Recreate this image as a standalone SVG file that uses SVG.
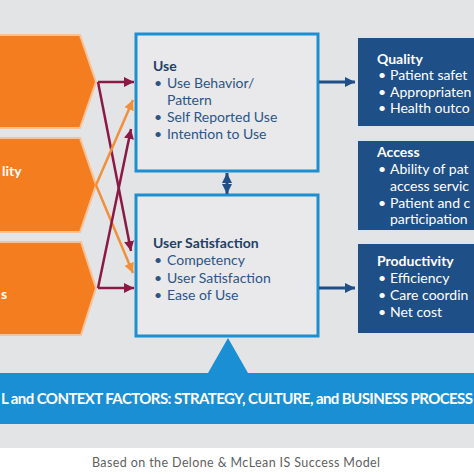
<svg xmlns="http://www.w3.org/2000/svg" width="474" height="474" viewBox="0 0 474 474">
<defs>
<style>
text{font-family:Lato,"Open Sans","Liberation Sans",sans-serif;}
.hd{font-size:14px;font-weight:bold;fill:#233f66;}
.it{font-size:14px;fill:#2c5585;}
.whd{font-size:14px;font-weight:bold;fill:#ffffff;}
.wit{font-size:14px;fill:#ffffff;}
.chev{fill:#f47d20;stroke:#f8c196;stroke-width:2;}
.gbox{fill:#e9e9eb;stroke:#1c8fd3;stroke-width:3;}
.nbox{fill:#1f4f87;stroke:#dfe4ea;stroke-width:3;}
.mar{stroke:#8a1a44;stroke-width:2.5;fill:none;}
.ora{stroke:#f1903a;stroke-width:2.5;fill:none;}
.nav{stroke:#1f4f86;stroke-width:3;fill:none;}
</style>
<marker id="mm" viewBox="0 0 10 10" refX="10" refY="5" markerWidth="10" markerHeight="10" markerUnits="userSpaceOnUse" orient="auto"><path d="M0,0 L10,5 L0,10 z" fill="#8a1a44"/></marker>
<marker id="mo" viewBox="0 0 10 10" refX="10" refY="5" markerWidth="10" markerHeight="10" markerUnits="userSpaceOnUse" orient="auto"><path d="M0,0 L10,5 L0,10 z" fill="#f1903a"/></marker>
<marker id="mn" viewBox="0 0 10 10" refX="10" refY="5" markerWidth="10" markerHeight="10" markerUnits="userSpaceOnUse" orient="auto-start-reverse"><path d="M0,0 L10,5 L0,10 z" fill="#1f4f86"/></marker>
</defs>
<rect x="0" y="0" width="474" height="474" fill="#ffffff"/>
<rect x="0" y="0" width="474" height="448" fill="#e3e4e6"/>

<g id="chevron-1"><path class="chev" d="M-5,35 L80,35 L96,82 L80,128 L-5,128 z"/></g>
<g id="chevron-2"><path class="chev" d="M-5,138 L80,138 L96,185 L80,232 L-5,232 z"/><text class="whd" x="2" y="176">lity</text></g>
<g id="chevron-3"><path class="chev" d="M-5,242 L81,242 L96,288 L81,335 L-5,335 z"/><text class="whd" x="1" y="299">s</text></g>

<g id="use">
<rect class="gbox" x="136" y="34" width="182" height="137"/>
<text class="hd" x="153" y="71">Use</text>
<text class="it"><tspan x="154" y="88">•</tspan><tspan x="167" y="88">Use Behavior/</tspan><tspan x="167" y="105">Pattern</tspan><tspan x="154" y="122">•</tspan><tspan x="167" y="122">Self Reported Use</tspan><tspan x="154" y="139">•</tspan><tspan x="167" y="139">Intention to Use</tspan></text>
</g>

<g id="user-satisfaction">
<rect class="gbox" x="136" y="195" width="182" height="141"/>
<text class="hd" x="153" y="248">User Satisfaction</text>
<text class="it"><tspan x="154" y="265">•</tspan><tspan x="167" y="265">Competency</tspan><tspan x="154" y="283">•</tspan><tspan x="167" y="283">User Satisfaction</tspan><tspan x="154" y="300">•</tspan><tspan x="167" y="300">Ease of Use</tspan></text>
</g>

<g id="quality">
<rect class="nbox" x="356.5" y="36.5" width="130" height="91"/>
<text class="whd" x="377" y="64">Quality</text>
<text class="wit"><tspan x="378" y="80">•</tspan><tspan x="390" y="80">Patient safet</tspan><tspan x="378" y="97">•</tspan><tspan x="390" y="97">Appropriaten</tspan><tspan x="378" y="113">•</tspan><tspan x="390" y="113">Health outco</tspan></text>
</g>

<g id="access">
<rect class="nbox" x="356.5" y="139.5" width="130" height="92"/>
<text class="whd" x="377" y="157">Access</text>
<text class="wit"><tspan x="378" y="174">•</tspan><tspan x="390" y="174">Ability of pat</tspan><tspan x="390" y="191">access servic</tspan><tspan x="378" y="208">•</tspan><tspan x="390" y="208">Patient and c</tspan><tspan x="390" y="224">participation</tspan></text>
</g>

<g id="productivity">
<rect class="nbox" x="356.5" y="242.5" width="130" height="92"/>
<text class="whd" x="377" y="266">Productivity</text>
<text class="wit"><tspan x="378" y="283">•</tspan><tspan x="390" y="283">Efficiency</tspan><tspan x="378" y="300">•</tspan><tspan x="390" y="300">Care coordin</tspan><tspan x="378" y="317">•</tspan><tspan x="390" y="317">Net cost</tspan></text>
</g>

<g id="connectors">
<line class="mar" x1="98" y1="82" x2="134" y2="82" marker-end="url(#mm)"/>
<line class="mar" x1="98" y1="82" x2="131" y2="251" marker-end="url(#mm)"/>
<line class="ora" x1="96" y1="185" x2="133" y2="100" marker-end="url(#mo)"/>
<line class="ora" x1="96" y1="185" x2="133" y2="273" marker-end="url(#mo)"/>
<line class="mar" x1="98" y1="288" x2="131" y2="129" marker-end="url(#mm)"/>
<line class="mar" x1="98" y1="288" x2="134" y2="288" marker-end="url(#mm)"/>
<line class="nav" x1="319" y1="82" x2="355" y2="82" marker-end="url(#mn)"/>
<line class="nav" x1="319" y1="288" x2="355" y2="288" marker-end="url(#mn)"/>
<line class="nav" x1="227" y1="173" x2="227" y2="194" marker-start="url(#mn)" marker-end="url(#mn)"/>
</g>

<g id="context-banner">
<path d="M0,373 L208,373 L228,338 L248,373 L474,373 L474,424 L0,424 z" fill="#1a8fd3"/>
<text x="1" y="404" textLength="472" style="font-size:15px;font-weight:bold;fill:#ffffff">L and CONTEXT FACTORS: STRATEGY, CULTURE, and BUSINESS PROCESS</text>
</g>

<text x="92" y="467" textLength="288" style="font-size:12.5px;fill:#5f5f5f">Based on the  Delone &amp; McLean IS Success Model</text>
</svg>
